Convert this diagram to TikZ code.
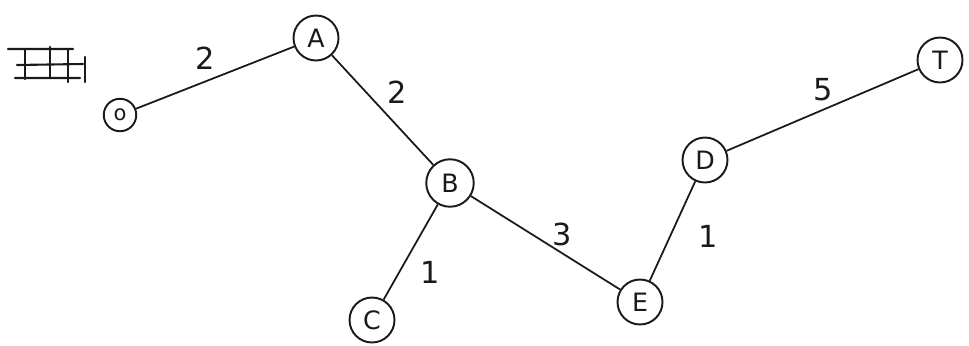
\documentclass[tikz,border=0pt]{standalone}
\usepackage{fontspec}
\setsansfont{DejaVu Sans}
\usetikzlibrary{positioning}
\definecolor{ink}{RGB}{25,25,30}
\tikzset{
  vertex/.style={circle,draw=ink,line width=1.1pt,minimum size=#1,inner sep=0pt,
    font=\sffamily\Large,text=ink},
  vertex/.default=9mm,
  edge/.style={draw=ink,line width=1pt},
  weight/.style={font=\sffamily\LARGE,text=ink},
  scribble/.style={draw=ink,line width=1.2pt,line cap=round},
}
\begin{document}
\begin{tikzpicture}[x=0.02cm,y=-0.02cm]
  \useasboundingbox (0,0) rectangle (969,345);
  % the nodes
  \node[vertex=6.5mm] (o) at (120,115) {\large o};
  \node[vertex] (a) at (316,38) {A};
  \node[vertex=9.5mm] (b) at (450,183) {B};
  \node[vertex] (c) at (372,320) {C};
  \node[vertex] (e) at (640,302) {E};
  \node[vertex] (d) at (705,160) {D};
  \node[vertex] (t) at (940,60) {T};
  % the edges
  \draw[edge] (o) -- (a); \draw[edge] (a) -- (b); \draw[edge] (b) -- (c);
  \draw[edge] (b) -- (e); \draw[edge] (e) -- (d); \draw[edge] (d) -- (t);
  % the weights
  \node[weight] (w1) at (205,58) {2};
  \node[weight] (w2) at (397,92) {2};
  \node[weight] (w3) at (430,272) {1};
  \node[weight] (w4) at (562,234) {3};
  \node[weight] (w5) at (708,236) {1};
  \node[weight] (w6) at (823,90) {5};
  % scribbled mark top left
  \draw[scribble] (8,49) -- (73,49) (17,65) -- (83,64) (15,78) -- (80,78);
  \draw[scribble] (25,49) -- (25,79) (50,47) -- (50,77) (68,50) -- (68,82) (85,57) -- (85,82);
\end{tikzpicture}
\end{document}
